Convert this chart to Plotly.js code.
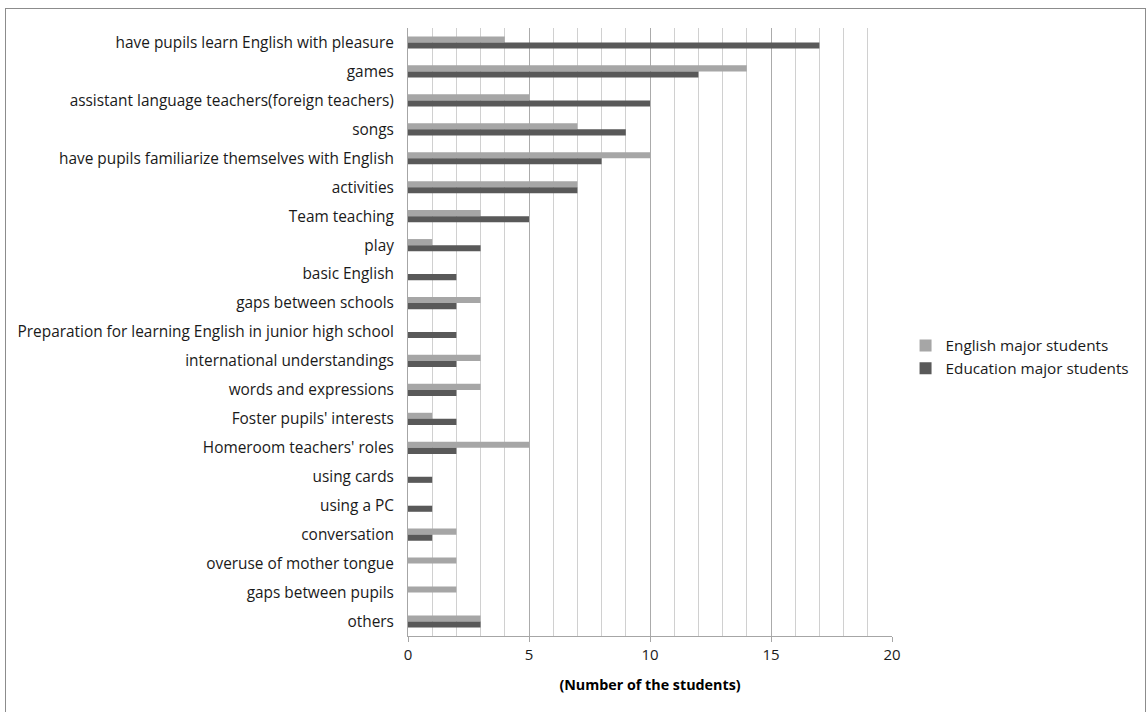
<!DOCTYPE html>
<html>
<head>
<meta charset="utf-8">
<script src="https://cdn.plot.ly/plotly-3.0.1.min.js"></script>
<style>
  html, body { margin: 0; padding: 0; background: #fff; }
  #wrap { position: relative; width: 1148px; height: 712px; }
  #chart { width: 1148px; height: 712px; }
  #frame { position: absolute; left: 5px; top: 8px; width: 1141px; height: 720px;
           border: 1px solid #8c8c8c; box-sizing: border-box; pointer-events: none; }
</style>
</head>
<body>
<div id="wrap">
  <div id="chart"></div>
  <div id="frame"></div>
</div>
<script>
const categories = [
  "have pupils learn English with pleasure",
  "games",
  "assistant language teachers(foreign teachers)",
  "songs",
  "have pupils familiarize themselves with English",
  "activities",
  "Team teaching",
  "play",
  "basic English",
  "gaps between schools",
  "Preparation for learning English in junior high school",
  "international understandings",
  "words and expressions",
  "Foster pupils' interests",
  "Homeroom teachers' roles",
  "using cards",
  "using a PC",
  "conversation",
  "overuse of mother tongue",
  "gaps between pupils",
  "others"
];
const englishMajor   = [4, 14, 5, 7, 10, 7, 3, 1, 0, 3, 0, 3, 3, 1, 5, 0, 0, 2, 2, 2, 3];
const educationMajor = [17, 12, 10, 9, 8, 7, 5, 3, 2, 2, 2, 2, 2, 2, 2, 1, 1, 1, 0, 0, 3];
const seriesNames = ["English major students", "Education major students"];
const xTitle = "(Number of the students)";

const FONT = "Open Sans, Noto Sans, sans-serif";

const data = [
  { type: "bar", orientation: "h", name: seriesNames[0], y: categories, x: englishMajor,
    marker: { color: "#a6a6a6" }, hoverinfo: "x+name" },
  { type: "bar", orientation: "h", name: seriesNames[1], y: categories, x: educationMajor,
    marker: { color: "#595959" }, hoverinfo: "x+name" }
];

const layout = {
  width: 1148, height: 712,
  margin: { l: 408, r: 256, t: 28, b: 76 },
  paper_bgcolor: "#fff", plot_bgcolor: "#fff",
  barmode: "group", bargap: 0.58, bargroupgap: 0,
  font: { family: FONT, size: 15, color: "#1a1a1a" },
  showlegend: true,
  legend: { x: 1.028, xanchor: "left", y: 0.505, yanchor: "top",
            font: { family: FONT, size: 15.3, color: "#1a1a1a" },
            traceorder: "normal", bgcolor: "rgba(0,0,0,0)" },
  xaxis: {
    range: [0, 20], dtick: 5, tick0: 0,
    showgrid: true, gridcolor: "#ababab", gridwidth: 1,
    minor: { dtick: 1, showgrid: true, gridcolor: "#d0d0d0", gridwidth: 1 },
    zeroline: false, showline: true, linecolor: "#a6a6a6", linewidth: 1,
    ticks: "outside", ticklen: 5, tickcolor: "#a6a6a6",
    tickfont: { family: FONT, size: 15, color: "#1a1a1a" },
    title: { text: "<b>" + xTitle + "</b>", font: { family: FONT, size: 14.3, color: "#000" }, standoff: 16 }
  },
  yaxis: {
    type: "category", autorange: "reversed",
    showgrid: false, zeroline: false,
    showline: true, linecolor: "#a6a6a6", linewidth: 1,
    ticks: "", ticklabelstandoff: 10,
    tickfont: { family: FONT, size: 15.4, color: "#1a1a1a" }
  }
};

Plotly.newPlot("chart", data, layout, { displayModeBar: false, staticPlot: true });
</script>
</body>
</html>
